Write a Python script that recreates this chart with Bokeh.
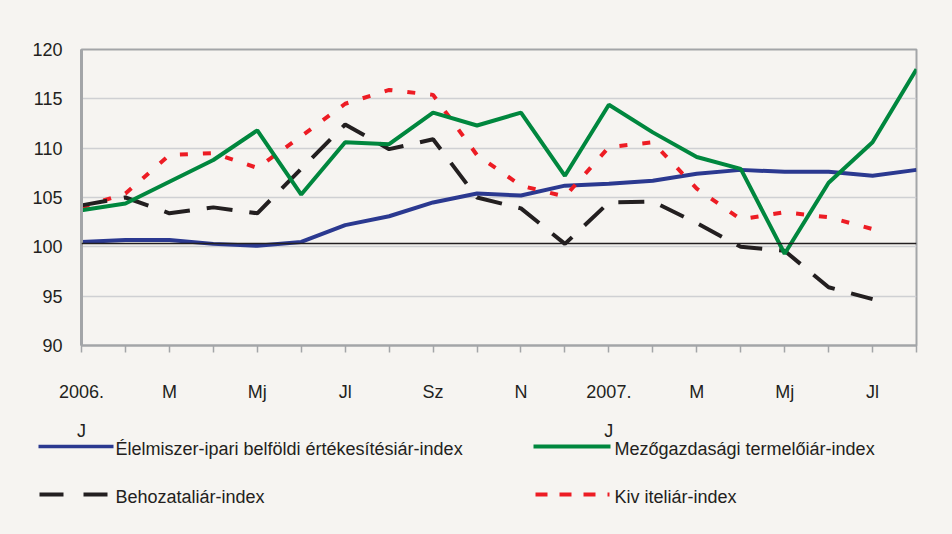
from bokeh.plotting import figure
from bokeh.layouts import column
from bokeh.models import Range1d, FixedTicker, Span
from bokeh.core.properties import value
from bokeh.embed import file_html
from bokeh.resources import INLINE

# ---- data -------------------------------------------------------------
months = list(range(20))  # 2006 Jan .. 2007 Aug
tick_labels = ["2006.", "", "M", "", "Mj", "", "Jl", "", "Sz", "", "N", "",
               "2007.", "", "M", "", "Mj", "", "Jl", ""]
year_sub_pos = [0, 12]
year_sub_text = ["J", "J"]

elelmiszer = [100.5, 100.7, 100.7, 100.3, 100.1, 100.5, 102.2, 103.1, 104.5, 105.4,
              105.2, 106.2, 106.4, 106.7, 107.4, 107.8, 107.6, 107.6, 107.2, 107.8]
mezogazdasagi = [103.7, 104.4, 106.6, 108.8, 111.8, 105.3, 110.6, 110.4, 113.6, 112.3,
                 113.6, 107.2, 114.4, 111.6, 109.1, 107.9, 99.3, 106.5, 110.6, 118.0]
behozatal = [104.2, 105.0, 103.4, 104.0, 103.4, 107.9, 112.4, 109.9, 110.9, 105.0,
             103.9, 100.3, 104.5, 104.6, 102.4, 100.0, 99.6, 95.9, 94.7]
kivitel = [104.0, 105.4, 109.3, 109.5, 108.0, 111.2, 114.5, 115.9, 115.4, 109.3,
           106.2, 105.1, 110.1, 110.6, 105.9, 102.8, 103.5, 103.0, 101.8]
ref_level = 100.35
y_ticks = [90, 95, 100, 105, 110, 115, 120]

names = ["Élelmiszer-ipari belföldi értékesítésiár-index",
         "Mezőgazdasági termelőiár-index",
         "Behozataliár-index",
         "Kiv iteliár-index"]

# ---- styling / layout -------------------------------------------------
W, H = 952, 534
H1 = 410                      # main chart part
H2 = H - H1                   # strip below: second label row + legend
LEFT, RIGHT, TOP, BOTTOM = 81, 36, 49, 65
BG = "#f6f4f1"
TXT = "#231f20"
FONT = "Liberation Sans"
GRAY = "#a3a5a8"
C_BLUE, C_GREEN, C_BLACK, C_RED = "#2b3990", "#00873e", "#231f20", "#ed1c24"

p = figure(width=W, height=H1, output_backend="svg", toolbar_location=None,
           x_range=Range1d(months[0], months[-1]), y_range=Range1d(90, 120),
           min_border_left=LEFT, min_border_right=RIGHT, min_border_top=TOP,
           min_border_bottom=BOTTOM)
p.frame_align = False
p.background_fill_color = BG
p.border_fill_color = BG
p.outline_line_color = GRAY
p.outline_line_width = 2

p.xgrid.visible = False
p.ygrid.ticker = FixedTicker(ticks=y_ticks)
p.ygrid.grid_line_color = "#cfd0d3"
p.ygrid.grid_line_width = 1.5

xa = p.xaxis[0]
xa.ticker = FixedTicker(ticks=months)
xa.major_label_overrides = {m: lab for m, lab in zip(months, tick_labels)}
xa.major_tick_out = 7
xa.major_tick_in = 0
xa.minor_tick_out = 0
xa.minor_tick_in = 0
xa.major_tick_line_color = GRAY
xa.major_tick_line_width = 1.5
xa.axis_line_color = GRAY
xa.axis_line_width = 2
xa.major_label_standoff = 29
xa.major_label_text_font = FONT
xa.major_label_text_font_size = "18px"
xa.major_label_text_color = TXT

ya = p.yaxis[0]
ya.ticker = FixedTicker(ticks=y_ticks)
ya.major_tick_out = 0
ya.major_tick_in = 0
ya.minor_tick_out = 0
ya.minor_tick_in = 0
ya.axis_line_color = GRAY
ya.axis_line_width = 3
ya.major_label_standoff = 19
ya.major_label_text_font = FONT
ya.major_label_text_font_size = "18px"
ya.major_label_text_color = TXT

# ---- lines ------------------------------------------------------------
p.line(months, elelmiszer, line_color=C_BLUE, line_width=4)
p.add_layout(Span(location=ref_level, dimension="width", line_color=C_BLACK,
                  line_width=1.5))
p.line(months[:len(kivitel)], kivitel, line_color=C_RED, line_width=4,
       line_dash="8 15")
p.line(months[:len(behozatal)], behozatal, line_color=C_BLACK,
       line_width=4, line_dash="26 17")
p.line(months, mezogazdasagi, line_color=C_GREEN, line_width=4)

# ---- strip below (second row of x labels + legend) --------------------
frame_w = W - LEFT - RIGHT
px_per_month = frame_w / (months[-1] - months[0])
lx_start = months[0] - LEFT / px_per_month
lx_end = months[0] + (W - LEFT) / px_per_month

q = figure(width=W, height=H2, output_backend="svg", toolbar_location=None,
           x_range=Range1d(lx_start, lx_end), y_range=Range1d(H2, 0),
           x_axis_type=None, y_axis_type=None,
           min_border_left=0, min_border_right=0, min_border_top=0,
           min_border_bottom=0)
q.frame_align = False
q.extra_x_ranges = {"px": Range1d(0, W)}
q.background_fill_color = BG
q.border_fill_color = BG
q.outline_line_color = None
q.grid.visible = False

# "J" under the year labels, on the same month scale
q.text(x=year_sub_pos, y=[20] * len(year_sub_pos), text=year_sub_text,
       text_font=value(FONT), text_font_size="18px", text_color=TXT,
       text_align="center", text_baseline="middle")

# legend samples and labels
row1, row2 = 36, 84
q.line(x=[38, 113], y=[row1, row1], x_range_name="px", line_color=C_BLUE, line_width=3.5)
q.line(x=[39, 112], y=[row2, row2], x_range_name="px", line_color=C_BLACK, line_width=4,
       line_dash="24 20")
q.line(x=[533, 610], y=[row1, row1], x_range_name="px", line_color=C_GREEN, line_width=4)
q.line(x=[535, 609], y=[row2, row2], x_range_name="px", line_color=C_RED, line_width=4,
       line_dash="12 12")
q.text(x=[115, 614, 115, 614], y=[row1 + 2, row1 + 2, row2 + 2, row2 + 2],
       text=[names[0], names[1], names[2], names[3]], x_range_name="px",
       text_font=value(FONT), text_font_size="18px", text_color=TXT,
       text_align="left", text_baseline="middle")

layout = column(p, q, spacing=0, styles={"background-color": BG})
open("out.html", "w").write(file_html(layout, INLINE))
